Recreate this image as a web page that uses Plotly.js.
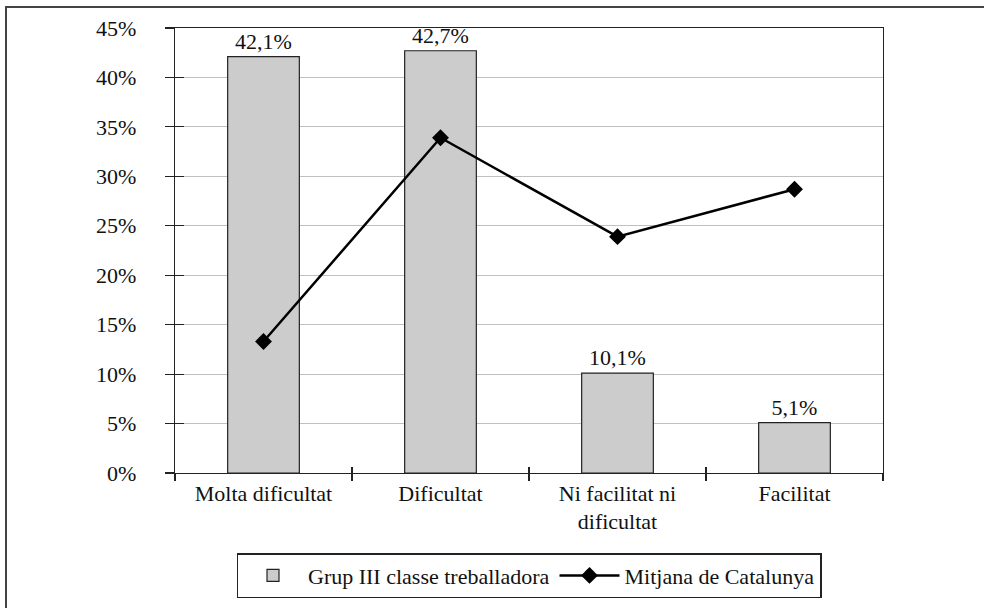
<!DOCTYPE html>
<html>
<head>
<meta charset="utf-8">
<script src="https://cdn.plot.ly/plotly-3.0.1.min.js"></script>
<style>
  html, body { margin: 0; padding: 0; background: #fff; overflow: hidden; }
  #chart { width: 984px; height: 608px; }
</style>
</head>
<body>
<div id="chart"></div>
<script>
// categories and values
var categories = ['Molta dificultat', 'Dificultat', 'Ni facilitat ni<br>dificultat', 'Facilitat'];
var grupIII = [42.1, 42.7, 10.1, 5.1];
var mitjanaCat = [13.3, 33.9, 23.9, 28.7];
var yTicks = [0, 5, 10, 15, 20, 25, 30, 35, 40, 45];
var boundaries = [-0.5, 0.5, 1.5, 2.5, 3.5];

var serif = 'Liberation Serif';
var fsize = 22;

var bars = {
  x: categories,
  y: grupIII,
  name: 'Grup III classe treballadora',
  type: 'bar',
  marker: { color: '#cccccc', line: { color: '#222222', width: 1.2 } },
  texttemplate: '%{y:.1f}%',
  textposition: 'outside',
  cliponaxis: false,
  textfont: { family: serif, size: fsize, color: '#111' },
  hoverinfo: 'skip'
};

var line = {
  x: categories,
  y: mitjanaCat,
  name: 'Mitjana de Catalunya',
  type: 'scatter',
  mode: 'lines+markers',
  line: { color: '#000', width: 2.5 },
  marker: { symbol: 'diamond', size: 13, color: '#000' },
  hoverinfo: 'skip'
};

// empty trace so the crossing-tick overlay axes get drawn
var ticksOverlay = {
  x: [], y: [], xaxis: 'x2', yaxis: 'y2',
  type: 'scatter', mode: 'markers', showlegend: false, hoverinfo: 'skip'
};

var layout = {
  width: 984,
  height: 608,
  margin: { l: 175, r: 101, t: 28, b: 135, autoexpand: false },
  paper_bgcolor: '#fff',
  plot_bgcolor: '#fff',
  separators: ',.',
  font: { family: serif, size: fsize, color: '#111' },
  bargap: 0.595,
  showlegend: true,
  legend: {
    orientation: 'h',
    x: 0.5, xanchor: 'center',
    y: -0.18, yanchor: 'top',
    bordercolor: '#222', borderwidth: 1.5,
    itemwidth: 60,
    font: { family: serif, size: fsize, color: '#111' }
  },
  xaxis: {
    type: 'category',
    tickson: 'boundaries',
    ticks: 'outside', ticklen: 7, tickcolor: '#222', tickwidth: 1.2,
    showline: true, linecolor: '#222', linewidth: 1.2, mirror: true,
    showgrid: false,
    tickfont: { family: serif, size: fsize, color: '#111' },
    range: [-0.5, 3.5]
  },
  yaxis: {
    range: [0, 45],
    tickvals: yTicks,
    ticktext: yTicks.map(function (v) { return v + '%'; }),
    ticks: 'outside', ticklen: 9, tickcolor: '#222', tickwidth: 1.2,
    ticklabelstandoff: 24,
    showline: true, linecolor: '#222', linewidth: 1.2, mirror: true,
    showgrid: true, gridcolor: '#c0c0c0', gridwidth: 1,
    zeroline: false,
    tickfont: { family: serif, size: fsize, color: '#111' }
  },
  xaxis2: {
    overlaying: 'x', anchor: 'y2',
    range: [-0.5, 3.5],
    tickvals: boundaries,
    ticks: 'inside', ticklen: 6, tickcolor: '#222', tickwidth: 1.2,
    showticklabels: false, showgrid: false, showline: false, zeroline: false
  },
  yaxis2: {
    overlaying: 'y', anchor: 'x2', side: 'left',
    range: [0, 45],
    tickvals: yTicks,
    ticks: 'inside', ticklen: 9, tickcolor: '#222', tickwidth: 1.2,
    showticklabels: false, showgrid: false, showline: false, zeroline: false
  },
  shapes: [{
    // outer frame of the figure, clipped at right and bottom in the original
    type: 'rect', xref: 'paper', yref: 'paper',
    x0: -0.2387, x1: 1.16, y0: -0.33, y1: 1.0472,
    line: { color: '#444', width: 2 },
    layer: 'above'
  }]
};

Plotly.newPlot('chart', [bars, line, ticksOverlay], layout, { staticPlot: true });
</script>
</body>
</html>
